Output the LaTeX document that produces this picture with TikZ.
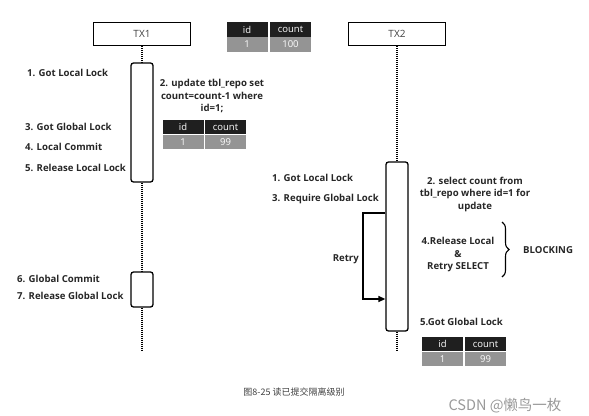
\documentclass[tikz,border=0pt]{standalone}
\usepackage{fontspec}
\setmainfont{Open Sans}
\newfontfamily\cjk{Noto Sans CJK SC}
\usetikzlibrary{arrows.meta,decorations.pathreplacing}

\tikzset{
  head/.style={draw, line width=1.3pt, minimum width=97, minimum height=23, inner sep=0, text=black!75, font=\fontsize{10}{12}\selectfont},
  bar/.style={draw, line width=1.3pt, rounded corners=2.5pt, minimum width=22, inner sep=0},
  life/.style={line width=1.2pt, dash pattern=on 1pt off 1pt},
  lbl/.style={anchor=west, inner sep=0, text=black!85, font=\bfseries\fontsize{9.6}{12}\selectfont},
  note/.style={align=center, inner sep=0, text=black!85, font=\bfseries\fontsize{9.6}{12.5}\selectfont},
  th/.style={fill=black!88, text=white, minimum width=41, minimum height=14.5, inner sep=0, font=\fontsize{9.5}{10}\selectfont},
  td/.style={th, fill=black!42, text=white!85}
}

\begin{document}
\begin{tikzpicture}[x=1pt,y=-1pt]
\useasboundingbox (0,0) rectangle (589,415);

% TX1
\node[head] (tx1) at (142,34) {TX1};
\node[bar, minimum height=119] (b1) at (142,122.5) {};
\node[bar, minimum height=35] (b2) at (142,289.5) {};
\coordinate (e1) at (142,350);
\draw[life] (tx1.south) -- (b1.north);
\draw[life] (b1.south) -- (b2.north);
\draw[life] (b2.south) -- (e1);

\node[lbl] (s11) at (27,73) {1. Got Local Lock};
\node[note] (s12) at (212,96) {2. update tbl\_repo set\\count=count-1 where\\id=1;};
\node[lbl] (s13) at (25,127) {3. Got Global Lock};
\node[lbl] (s14) at (25,147) {4. Local Commit};
\node[lbl] (s15) at (25,168) {5. Release Local Lock};
\node[lbl] (s16) at (17,279) {6. Global Commit};
\node[lbl] (s17) at (17,296) {7. Release Global Lock};

% TX2
\node[head] (tx2) at (397,34) {TX2};
\node[bar, minimum height=169] (b3) at (397,246.5) {};
\coordinate (e2) at (397,350);
\draw[life] (tx2.south) -- (b3.north);
\draw[life] (b3.south) -- (e2);

\node[lbl] (s21) at (272,178) {1. Got Local Lock};
\node[lbl] (s23) at (272,199) {3. Require Global Lock};
\node[note] (s22) at (475,194) {2. select count from\\tbl\_repo where id=1 for\\update};
\node[note] (s24) at (458,255) {4.Release Local\\\&\\Retry SELECT};
\node[lbl] (blk) at (523,250) {BLOCKING};
\node[lbl] (s25) at (420,322) {5.Got Global Lock};

% retry loop
\coordinate (rt) at (363,213);
\coordinate (rb) at (363,299);
\draw[line width=1.3pt, -{Triangle[length=7pt,width=6pt]}] (b3.west |- rt) -- (rt) -- (rb) -- (b3.west |- rb);
\node[lbl, anchor=east] (rty) at (359,259) {Retry};

% brace
\draw[line width=1.1pt, decorate, decoration={brace, amplitude=7pt}] (502,222) -- (502,277);

% tables
\node[th] (t1a) at (247,29.5) {id};
\node[th] (t1b) at (290.5,29.5) {count};
\node[td] (t1c) at (247,44.5) {1};
\node[td] (t1d) at (290.5,44.5) {100};

\node[th] (t2a) at (183,127) {id};
\node[th] (t2b) at (225.5,127) {count};
\node[td] (t2c) at (183,142) {1};
\node[td] (t2d) at (225.5,142) {99};

\node[th] (t3a) at (442.5,344) {id};
\node[th] (t3b) at (485.5,344) {count};
\node[td] (t3c) at (442.5,359) {1};
\node[td] (t3d) at (485.5,359) {99};

% caption
\node[text=black!75, font=\cjk\fontsize{9}{10}\selectfont] (cap) at (294,392) {图8-25 读已提交隔离级别};
\node[text=black!40, font=\cjk\fontsize{14.5}{16}\selectfont] (mark) at (505,406) {CSDN @懒鸟一枚};

\end{tikzpicture}
\end{document}
